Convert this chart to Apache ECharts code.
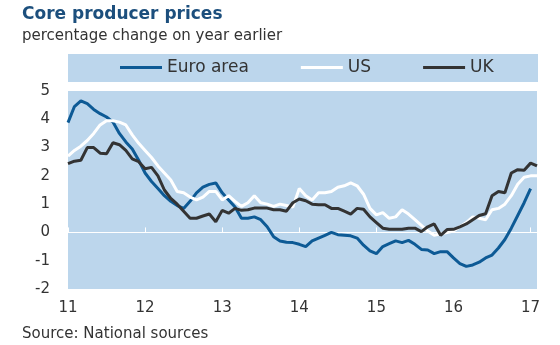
<!DOCTYPE html>
<html><head><meta charset="utf-8">
<script src="https://cdn.jsdelivr.net/npm/echarts@6/dist/echarts.min.js"></script>
<style>html,body{margin:0;padding:0;background:#fff}#c{width:560px;height:345px}</style>
</head><body><div id="c"></div>
<script>
const months = [
 '2011-01','2011-02','2011-03','2011-04','2011-05','2011-06','2011-07','2011-08','2011-09','2011-10','2011-11','2011-12',
 '2012-01','2012-02','2012-03','2012-04','2012-05','2012-06','2012-07','2012-08','2012-09','2012-10','2012-11','2012-12',
 '2013-01','2013-02','2013-03','2013-04','2013-05','2013-06','2013-07','2013-08','2013-09','2013-10','2013-11','2013-12',
 '2014-01','2014-02','2014-03','2014-04','2014-05','2014-06','2014-07','2014-08','2014-09','2014-10','2014-11','2014-12',
 '2015-01','2015-02','2015-03','2015-04','2015-05','2015-06','2015-07','2015-08','2015-09','2015-10','2015-11','2015-12',
 '2016-01','2016-02','2016-03','2016-04','2016-05','2016-06','2016-07','2016-08','2016-09','2016-10','2016-11','2016-12',
 '2017-01','2017-02'
];
const yearLabels = ['11','12','13','14','15','16','17'];
const euroArea = [
 3.88,4.45,4.65,4.55,4.35,4.2,4.08,3.9,3.5,3.2,2.95,2.55,
 2.1,1.8,1.55,1.3,1.1,0.95,0.85,1.1,1.4,1.6,1.7,1.75,
 1.4,1.15,0.9,0.5,0.5,0.55,0.45,0.2,-0.15,-0.3,-0.35,-0.36,
 -0.42,-0.5,-0.3,-0.2,-0.1,0.0,-0.08,-0.1,-0.12,-0.2,-0.45,-0.65,
 -0.75,-0.5,-0.4,-0.3,-0.36,-0.28,-0.42,-0.6,-0.62,-0.75,-0.68,-0.68,
 -0.9,-1.1,-1.2,-1.15,-1.05,-0.9,-0.8,-0.55,-0.25,0.15,0.6,1.05,
 1.55
];
const us = [
 2.7,2.9,3.05,3.25,3.5,3.8,3.95,3.95,3.9,3.8,3.45,3.15,
 2.9,2.65,2.35,2.1,1.85,1.45,1.4,1.25,1.15,1.25,1.45,1.45,
 1.15,1.3,1.1,0.92,1.05,1.3,1.05,1.0,0.92,1.0,0.95,0.9,
 1.55,1.3,1.15,1.4,1.4,1.45,1.6,1.65,1.75,1.65,1.35,0.85,
 0.62,0.7,0.5,0.55,0.8,0.65,0.45,0.25,0.05,-0.1,-0.05,0.0,
 0.05,0.2,0.35,0.55,0.5,0.45,0.8,0.85,1.0,1.3,1.7,1.95,
 2.0,2.0
];
const uk = [
 2.43,2.52,2.55,3.0,3.0,2.8,2.78,3.17,3.1,2.9,2.6,2.5,
 2.25,2.3,2.0,1.5,1.2,1.0,0.75,0.5,0.5,0.58,0.65,0.38,
 0.78,0.68,0.85,0.78,0.8,0.86,0.86,0.86,0.8,0.8,0.75,1.05,
 1.18,1.12,1.0,0.98,0.98,0.85,0.85,0.75,0.65,0.85,0.82,0.55,
 0.35,0.15,0.11,0.11,0.11,0.15,0.15,0.03,0.2,0.3,-0.1,0.1,
 0.11,0.2,0.3,0.45,0.6,0.66,1.3,1.45,1.4,2.1,2.22,2.2,
 2.45,2.35
];
const FONT = 'DejaVu Sans';
const BG = '#bcd6ec';
const TXT = '#333333';
const chart = echarts.init(document.getElementById('c'), null, {renderer:'canvas'});
const yearTick = (i) => i % 12 === 0;
chart.setOption({
  animation: false,
  textStyle: {fontFamily: FONT},
  title: [
    {text: 'Core producer prices', left: 22, top: 6, padding: 0,
     textStyle: {fontFamily: FONT, fontSize: 17, fontWeight: 'bold', color: '#1c4f7d'}},
    {text: 'percentage change on year earlier', left: 22, top: 29, padding: 0,
     textStyle: {fontFamily: FONT, fontSize: 15, fontWeight: 'normal', color: TXT}},
    {text: 'Source: National sources', left: 22, top: 327, padding: 0,
     textStyle: {fontFamily: FONT, fontSize: 15, fontWeight: 'normal', color: TXT}}
  ],
  graphic: [{type: 'rect', z: -1, shape: {x: 68, y: 54, width: 470, height: 28}, style: {fill: BG}}],
  legend: {
    data: ['Euro area', 'US', 'UK'], left: 120, top: 59, padding: 0,
    icon: 'rect', itemWidth: 42, itemHeight: 3, itemGap: 52,
    textStyle: {fontFamily: FONT, fontSize: 17, color: TXT}
  },
  grid: {left: 68, right: 23, top: 91, bottom: 56, show: true, backgroundColor: BG, borderWidth: 0},
  xAxis: [
    {type: 'category', data: months, boundaryGap: false, position: 'bottom',
     axisLine: {show: false, onZero: false}, axisTick: {show: false},
     axisLabel: {interval: yearTick, formatter: (v) => v.slice(2, 4), fontFamily: FONT, fontSize: 15, color: TXT, margin: 12}},
    {type: 'category', data: months, boundaryGap: false, position: 'bottom',
     axisLine: {show: true, onZero: true, lineStyle: {color: '#ffffff', width: 1}},
     axisTick: {show: true, inside: true, length: 5, interval: yearTick, lineStyle: {color: '#ffffff', width: 1}},
     axisLabel: {show: false}}
  ],
  yAxis: {type: 'value', min: -2, max: 5, interval: 1,
    splitLine: {show: false}, axisLine: {show: false}, axisTick: {show: false},
    axisLabel: {fontFamily: FONT, fontSize: 15, color: TXT, margin: 18}},
  series: [
    {name: 'Euro area', type: 'line', data: euroArea, symbol: 'none', xAxisIndex: 0,
     lineStyle: {width: 3, color: '#0d5a95'}, itemStyle: {color: '#0d5a95'}},
    {name: 'US', type: 'line', data: us, symbol: 'none', xAxisIndex: 0,
     lineStyle: {width: 3, color: '#ffffff'}, itemStyle: {color: '#ffffff'}},
    {name: 'UK', type: 'line', data: uk, symbol: 'none', xAxisIndex: 0,
     lineStyle: {width: 3, color: '#333333'}, itemStyle: {color: '#333333'}}
  ]
});
</script></body></html>
